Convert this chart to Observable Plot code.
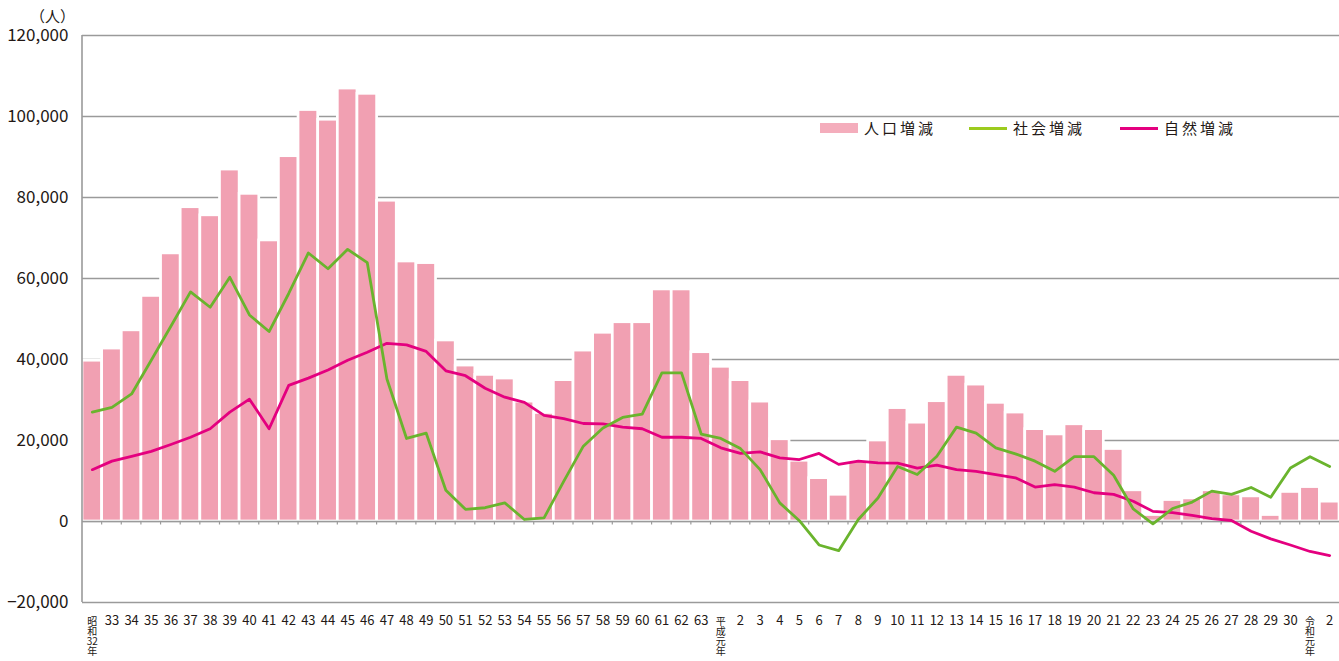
<!DOCTYPE html>
<html><head><meta charset="utf-8">
<script src="https://cdn.jsdelivr.net/npm/d3@7"></script>
<script src="https://cdn.jsdelivr.net/npm/@observablehq/plot@0.6"></script>
<style>
body{margin:0;background:#fff;}
#wrap{position:relative;width:1339px;height:661px;font-family:"Noto Sans CJK JP","Noto Sans",sans-serif;color:#231815;}
#unit{position:absolute;left:30px;top:8px;width:45px;text-align:center;font-size:15px;line-height:15px;}
.lg{position:absolute;top:120px;font-size:15px;line-height:16px;letter-spacing:3px;white-space:nowrap;}
.sw{position:absolute;}
</style></head><body><div id="wrap"><div id="unit">（人）</div></div>
<script>
const years = [1957,1958,1959,1960,1961,1962,1963,1964,1965,1966,1967,1968,1969,1970,1971,1972,1973,1974,1975,1976,1977,1978,1979,1980,1981,1982,1983,1984,1985,1986,1987,1988,1989,1990,1991,1992,1993,1994,1995,1996,1997,1998,1999,2000,2001,2002,2003,2004,2005,2006,2007,2008,2009,2010,2011,2012,2013,2014,2015,2016,2017,2018,2019,2020];
const labels = ["昭\n和\n32\n年","33","34","35","36","37","38","39","40","41","42","43","44","45","46","47","48","49","50","51","52","53","54","55","56","57","58","59","60","61","62","63",
"平\n成\n元\n年","2","3","4","5","6","7","8","9","10","11","12","13","14","15","16","17","18","19","20","21","22","23","24","25","26","27","28","29","30",
"令\n和\n元\n年","2"];
const population = [39700,42700,47200,55700,66200,77600,75600,86900,80900,69400,
90200,101600,99200,106900,105600,79200,64200,63800,44700,38500,
36200,35300,29600,26800,34900,42200,46600,49200,49200,57300,
57300,41800,38200,34900,29600,20300,15000,10700,6600,14900,
20000,28000,24400,29700,36200,33800,29300,26900,22800,21500,
24000,22800,17900,7700,1600,5300,5700,7700,6700,6200,
1600,7300,8500,4900];
const social = [27000,28200,31500,39800,48200,56700,52900,60300,51000,46900,
56300,66300,62400,67200,63900,35200,20500,21800,7700,3000,
3400,4600,500,900,9900,18600,23100,25700,26500,36700,
36700,21600,20500,18000,12800,4600,200,-5800,-7200,500,
5800,13600,11600,16100,23300,21800,18200,16700,14900,12400,
16000,16000,11400,3100,-600,3200,4800,7500,6700,8400,
6000,13200,16000,13600];
const natural = [12800,14900,16100,17300,19000,20800,22900,27000,30200,22900,
33600,35400,37400,39800,41800,44000,43600,42000,37200,36000,
32900,30700,29400,26200,25400,24200,24100,23300,22900,20800,
20800,20500,18200,16800,17200,15700,15300,16800,14100,14900,
14500,14400,13200,13900,12800,12400,11600,10800,8500,9100,
8500,7100,6700,5000,2500,2200,1500,700,250,-2400,
-4300,-5800,-7400,-8400];
const yTicks = [-20000,0,20000,40000,60000,80000,100000,120000];
const seriesNames = ["人口増減","社会増減","自然増減"];
const colors = {bar:"#f1a0b2", social:"#6ab42d", natural:"#e4007f", grid:"#9a9a9a"};

const rows = years.map((y,i)=>({year:y,label:labels[i],pop:population[i],social:social[i],natural:natural[i],vertical:labels[i].includes("\n")}));

const plot = Plot.plot({
  width:1339, height:661, marginLeft:82, marginRight:0, marginTop:35, marginBottom:59,
  style:{fontFamily:'"Noto Sans CJK JP","Noto Sans",sans-serif', color:"#231815", background:"transparent", overflow:"visible"},
  x:{type:"band", domain:years, padding:0, axis:null},
  y:{domain:[-20000,120000], axis:null},
  marks:[
    Plot.ruleY(yTicks, {stroke:colors.grid, strokeWidth:1.4}),
    Plot.barY(rows, {x:"year", y:"pop", fill:colors.bar, stroke:"#fff", strokeWidth:2.7}),
    Plot.ruleY([0], {stroke:colors.grid, strokeWidth:1.4}),
    Plot.lineY(rows, {x:"year", y:"natural", stroke:colors.natural, strokeWidth:2.8}),
    Plot.lineY(rows, {x:"year", y:"social", stroke:colors.social, strokeWidth:2.8}),
    Plot.axisY(yTicks, {tickSize:0, tickPadding:14, fontSize:17, tickFormat:d3.format(","), stroke:"none"}),
    Plot.text(rows.filter(d=>!d.vertical), {x:"year", text:"label", frameAnchor:"bottom", lineAnchor:"top", dy:13, fontSize:13}),
    Plot.text(rows.filter(d=>d.vertical), {x:"year", text:"label", frameAnchor:"bottom", lineAnchor:"top", dy:15, fontSize:10, lineHeight:1.0})
  ]
});

// y-axis line and small ticks on the zero line, positioned with the plot's own scales
const xs = plot.scale("x"), ys = plot.scale("y");
const svg = d3.select(plot);
const xLeft = xs.apply(years[0]);
svg.append("line").attr("x1",xLeft).attr("x2",xLeft).attr("y1",ys.apply(yTicks[yTicks.length-1])).attr("y2",ys.apply(yTicks[0]))
  .attr("stroke",colors.grid).attr("stroke-width",1.6);
const y0 = ys.apply(0);
svg.append("g").selectAll("line").data(years.slice(1)).join("line")
  .attr("x1",d=>xs.apply(d)).attr("x2",d=>xs.apply(d)).attr("y1",y0).attr("y2",y0+3.5)
  .attr("stroke",colors.grid).attr("stroke-width",1.2);

const wrap = document.getElementById("wrap");
wrap.appendChild(plot);
plot.style.position="absolute"; plot.style.left="0"; plot.style.top="0";

// legend
const legend = [
  {name:seriesNames[0], kind:"rect", color:"#f4adbc", x:820},
  {name:seriesNames[1], kind:"line", color:"#9ccb1e", x:969},
  {name:seriesNames[2], kind:"line", color:colors.natural, x:1120}
];
legend.forEach(l=>{
  const s = document.createElement("div");
  s.className="sw";
  s.style.left=l.x+"px"; s.style.width="38px"; s.style.background=l.color;
  if(l.kind==="rect"){ s.style.top="123px"; s.style.height="10px"; }
  else { s.style.top="127px"; s.style.height="2.6px"; }
  wrap.appendChild(s);
  const t = document.createElement("div");
  t.className="lg"; t.style.left=(l.x+44)+"px"; t.textContent=l.name;
  wrap.appendChild(t);
});
</script></body></html>
